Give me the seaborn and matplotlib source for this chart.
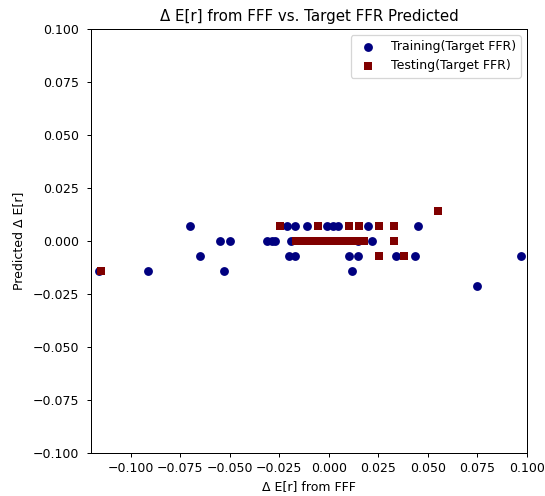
import numpy as np
import pandas as pd
import matplotlib
matplotlib.use("Agg")
import matplotlib.pyplot as plt
import seaborn as sns

# Training points (circles)
train_x = [-0.116, -0.091, -0.070, -0.065, -0.055, -0.050, -0.053,
           -0.021, -0.017, -0.011, -0.001, 0.002, 0.0045, 0.020,
           -0.031, -0.0285, -0.027, -0.019, 0.0145, 0.022,
           -0.020, -0.017, 0.010, 0.0145, 0.034,
           0.0116, 0.045, 0.0436, 0.097, 0.075]
train_y = [-0.0143, -0.0143, 0.0071, -0.0071, 0.0, 0.0, -0.0143,
           0.0071, 0.0071, 0.0071, 0.0071, 0.0071, 0.0071, 0.0071,
           0.0, 0.0, 0.0, 0.0, 0.0, 0.0,
           -0.0071, -0.0071, -0.0071, -0.0071, -0.0071,
           -0.0143, 0.0071, -0.0071, -0.0071, -0.0214]

# Testing points (squares)
test_x = [-0.115, -0.0246, -0.0054, 0.0103, 0.0153, 0.0254, 0.0330, 0.055,
          -0.0167, -0.0135, -0.010, -0.0066, -0.003, -0.0007, 0.002, 0.005,
          0.008, 0.011, 0.0136, 0.0175, 0.0327,
          0.0254, 0.0377]
test_y = [-0.0143, 0.0071, 0.0071, 0.0071, 0.0071, 0.0071, 0.0071, 0.0143,
          0.0, 0.0, 0.0, 0.0, 0.0, 0.0, 0.0, 0.0,
          0.0, 0.0, 0.0, 0.0, 0.0,
          -0.0071, -0.0071]

DPI = 90
fig, ax = plt.subplots(figsize=(545 / DPI, 496 / DPI), dpi=DPI)
fig.subplots_adjust(left=91 / 545, right=527 / 545, top=1 - 29 / 496, bottom=1 - 453 / 496)

sns.scatterplot(x=train_x, y=train_y, ax=ax, color="navy", marker="o",
                s=50, linewidth=0, label="Training(Target FFR)")
sns.scatterplot(x=test_x, y=test_y, ax=ax, color="maroon", marker="s",
                s=50, linewidth=0, label="Testing(Target FFR)")

ax.set_xlim(-0.12, 0.1)
ax.set_ylim(-0.1, 0.1)
ax.set_xticks(np.arange(-0.1, 0.1001, 0.025))
ax.set_yticks(np.arange(-0.1, 0.1001, 0.025))
ax.tick_params(axis="y", pad=6)
ax.set_title("Δ E[r] from FFF vs. Target FFR Predicted", fontsize=12)
ax.set_xlabel("Δ E[r] from FFF")
ax.set_ylabel("Predicted Δ E[r]", labelpad=6)
ax.legend(loc="upper right")

fig.savefig("out.png", dpi=DPI)
